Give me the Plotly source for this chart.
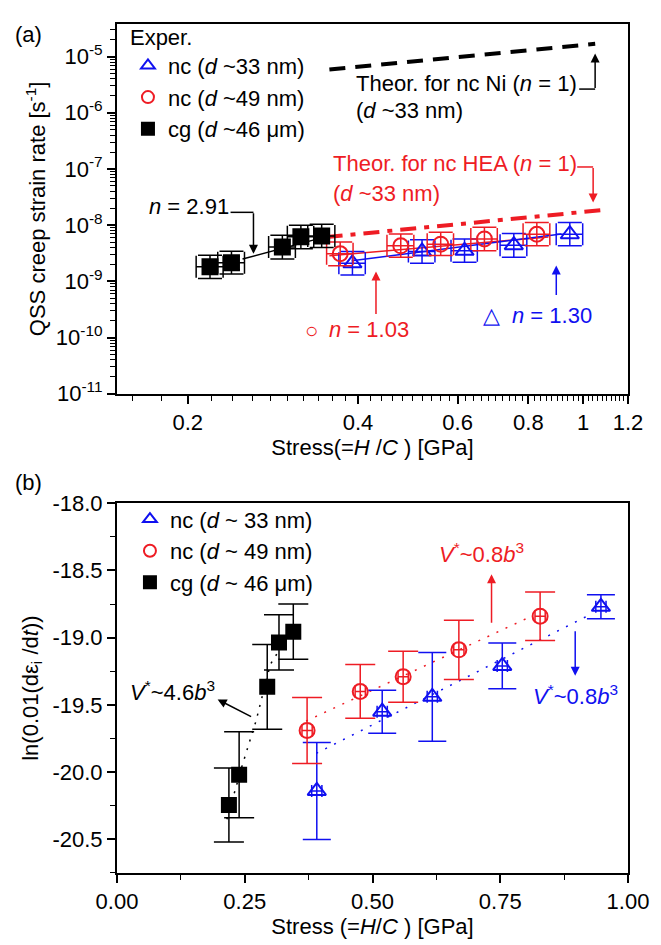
import math
import plotly.graph_objects as go

# ---------------- data ----------------
# stress (=H/C) [GPa], shared by both panels
stress_nc33 = [0.391, 0.519, 0.617, 0.754, 0.947]
stress_nc49 = [0.372, 0.476, 0.560, 0.669, 0.828]
stress_cg = [0.219, 0.239, 0.294, 0.317, 0.345]

stress_err_nc33 = [0.021, 0.028, 0.033, 0.041, 0.051]
stress_err_nc49 = [0.020, 0.026, 0.030, 0.036, 0.045]
stress_err_cg = [0.012, 0.013, 0.016, 0.017, 0.019]

# panel (a): QSS creep strain rate [1/s]
rate_nc33 = [2.1e-9, 3.4e-9, 3.5e-9, 4.4e-9, 6.9e-9]
rate_nc49 = [3.1e-9, 4.3e-9, 4.6e-9, 5.7e-9, 6.9e-9]
rate_cg = [1.83e-9, 2.15e-9, 4.1e-9, 6.2e-9, 6.4e-9]

rate_hi_nc33 = [1.3e-9, 2.1e-9, 2.2e-9, 2.7e-9, 4.3e-9]
rate_lo_nc33 = [0.8e-9, 1.3e-9, 1.3e-9, 1.7e-9, 2.6e-9]
rate_hi_nc49 = [1.9e-9, 2.7e-9, 2.9e-9, 3.5e-9, 4.3e-9]
rate_lo_nc49 = [1.2e-9, 1.6e-9, 1.7e-9, 2.2e-9, 2.6e-9]
rate_hi_cg = [1.1e-9, 1.3e-9, 2.5e-9, 3.8e-9, 4.0e-9]
rate_lo_cg = [0.7e-9, 0.8e-9, 1.6e-9, 2.4e-9, 2.4e-9]

# fitted / theoretical lines in panel (a)
fit_cg_x, fit_cg_y = [0.25, 0.35], [2.5e-9, 6.2e-9]
fit_nc49_x, fit_nc49_y = [0.356, 0.868], [2.86e-9, 6.15e-9]
fit_nc33_x, fit_nc33_y = [0.39, 0.915], [2.33e-9, 6.95e-9]
theor_hea_x, theor_hea_y = [0.352, 1.107], [6.15e-9, 1.9e-8]
theor_ni_x, theor_ni_y = [0.356, 1.05], [5.9e-6, 1.69e-5]

# panel (b): ln(0.01(d eps_i / dt))
ln_nc33 = [-20.14, -19.55, -19.44, -19.21, -18.77]
ln_err_nc33 = [0.36, 0.16, 0.33, 0.17, 0.09]
ln_nc49 = [-19.69, -19.40, -19.29, -19.09, -18.84]
ln_err_nc49 = [0.245, 0.20, 0.19, 0.22, 0.18]
ln_cg = [-20.245, -20.02, -19.365, -19.035, -18.955]
ln_err_cg = [0.275, 0.32, 0.315, 0.205, 0.205]
stress_err_b = [0.010, 0.010, 0.010, 0.010, 0.010]

fitb_cg_x = [0.215, 0.245, 0.272, 0.300, 0.345]
fitb_cg_y = [-20.35, -19.95, -19.62, -19.20, -18.92]
fitb_nc49_x, fitb_nc49_y = [0.37, 0.80], [-19.62, -18.86]
fitb_nc33_x, fitb_nc33_y = [0.39, 0.93], [-19.86, -18.82]

# tick labels
ya_tickvals = [1e-11, 1e-10, 1e-9, 1e-8, 1e-7, 1e-6, 1e-5]
ya_ticktext = ["10<sup>-11</sup>", "10<sup>-10</sup>", "10<sup>-9</sup>", "10<sup>-8</sup>",
               "10<sup>-7</sup>", "10<sup>-6</sup>", "10<sup>-5</sup>"]
xa_tickvals = [0.2, 0.4, 0.6, 0.8, 1.0, 1.2]
xa_ticktext = ["0.2", "0.4", "0.6", "0.8", "1", "1.2"]
yb_tickvals = [-18.0, -18.5, -19.0, -19.5, -20.0, -20.5]
yb_ticktext = ["-18.0", "-18.5", "-19.0", "-19.5", "-20.0", "-20.5"]
xb_tickvals = [0.0, 0.25, 0.5, 0.75, 1.0]
xb_ticktext = ["0.00", "0.25", "0.50", "0.75", "1.00"]

# ---------------- style ----------------
BLUE = "#1010f0"
RED = "#ee1c24"
BLACK = "#000000"
FONT = "Liberation Sans, Arial, sans-serif"
FS = 22

W, H = 661, 945
ML, MR, MT, MB = 117, 31, 12, 72
PW, PH = W - ML - MR, H - MT - MB


def X(px):
    return (px - ML) / PW


def Y(py):
    return (H - MB - py) / PH


fig = go.Figure()


def add_points(x, y, ex, ey_hi, ey_lo, color, symbol, size, name, xa, ya, legend, cap_y, cap_x):
    fig.add_trace(go.Scatter(
        x=x, y=y, mode="markers", name=name, xaxis=xa, yaxis=ya, legend=legend,
        marker=dict(symbol=symbol, size=size, color=color, line=dict(color=color, width=2)),
        error_x=dict(type="data", array=ex, color=color, thickness=1.5, width=cap_x),
        error_y=dict(type="data", array=ey_hi, arrayminus=ey_lo, color=color, thickness=1.5, width=cap_y),
    ))


def add_line(x, y, color, width, dash, xa, ya):
    fig.add_trace(go.Scatter(x=x, y=y, mode="lines", showlegend=False, xaxis=xa, yaxis=ya,
                             line=dict(color=color, width=width, dash=dash), hoverinfo="skip"))


# panel (a)
add_line(theor_ni_x, theor_ni_y, BLACK, 4, "16px,10px", "x", "y")
add_line(theor_hea_x, theor_hea_y, RED, 4, "16px,8px,5px,8px", "x", "y")
add_line(fit_cg_x, fit_cg_y, BLACK, 1.5, "solid", "x", "y")
add_line(fit_nc49_x, fit_nc49_y, RED, 1.5, "solid", "x", "y")
add_line(fit_nc33_x, fit_nc33_y, BLUE, 1.5, "solid", "x", "y")
add_points(stress_nc33, rate_nc33, stress_err_nc33, rate_hi_nc33, rate_lo_nc33, BLUE,
           "triangle-up-open", 16, "nc (<i>d</i> ~33 nm)", "x", "y", "legend", 12, 11)
add_points(stress_nc49, rate_nc49, stress_err_nc49, rate_hi_nc49, rate_lo_nc49, RED,
           "circle-open", 15, "nc (<i>d</i> ~49 nm)", "x", "y", "legend", 12, 11)
add_points(stress_cg, rate_cg, stress_err_cg, rate_hi_cg, rate_lo_cg, BLACK,
           "square", 15, "cg (<i>d</i> ~46 μm)", "x", "y", "legend", 12, 11)

# panel (b)
add_line(fitb_cg_x, fitb_cg_y, BLACK, 1.5, "2px,7px", "x2", "y2")
add_line(fitb_nc49_x, fitb_nc49_y, RED, 1.5, "2px,8px", "x2", "y2")
add_line(fitb_nc33_x, fitb_nc33_y, BLUE, 1.5, "2px,8px", "x2", "y2")
add_points(stress_nc33, ln_nc33, stress_err_b, ln_err_nc33, ln_err_nc33, BLUE,
           "triangle-up-open", 16, "nc (<i>d</i> ~ 33 nm)", "x2", "y2", "legend2", 14, 6)
add_points(stress_nc49, ln_nc49, stress_err_b, ln_err_nc49, ln_err_nc49, RED,
           "circle-open", 15, "nc (<i>d</i> ~ 49 nm)", "x2", "y2", "legend2", 15, 6)
add_points(stress_cg, ln_cg, stress_err_b, ln_err_cg, ln_err_cg, BLACK,
           "square", 14, "cg (<i>d</i> ~ 46 μm)", "x2", "y2", "legend2", 15, 6)

axis_common = dict(showline=True, linecolor="black", linewidth=2, mirror=True, showgrid=False,
                   zeroline=False, ticks="outside", tickcolor="black", tickwidth=1.5, ticklen=8,
                   tickfont=dict(family=FONT, size=FS, color="black"))

# minor tick positions
xa_minor = [round(0.02 * k, 2) for k in range(8, 61) if round(0.02 * k, 2) not in xa_tickvals]
ya_minor = [m * 10.0 ** e for e in range(-11, -4) for m in range(2, 10) if m * 10.0 ** e < 3.8e-5]
xb_minor = [0.125, 0.375, 0.625, 0.875]
yb_minor = [-18.25, -18.75, -19.25, -19.75, -20.25, -20.75]

minor_style = dict(ticks="outside", ticklen=5, tickwidth=1.3, tickcolor="black", tickmode="array")

fig.update_layout(
    width=W, height=H, margin=dict(l=ML, r=MR, t=MT, b=MB),
    paper_bgcolor="white", plot_bgcolor="white",
    font=dict(family=FONT, size=FS, color="black"),
    xaxis=dict(axis_common, type="log", range=[math.log10(0.15), math.log10(1.2)],
               domain=[0, 1], anchor="y", tickmode="array", tickvals=xa_tickvals, ticktext=xa_ticktext,
               minor=dict(minor_style, tickvals=xa_minor),
               title=dict(text="Stress(=<i>H</i> /<i>C</i> ) [GPa]", font=dict(size=FS), standoff=2)),
    yaxis=dict(axis_common, type="log", range=[-11, -4.42], domain=[Y(387), 1], anchor="x",
               tickmode="array", tickvals=ya_tickvals, ticktext=ya_ticktext,
               minor=dict(minor_style, tickvals=ya_minor),
               title=dict(text="QSS creep strain rate [s<sup>-1</sup>]", font=dict(size=FS), standoff=4)),
    xaxis2=dict(axis_common, range=[0, 1], domain=[0, 1], anchor="y2",
                tickmode="array", tickvals=xb_tickvals, ticktext=xb_ticktext,
                minor=dict(minor_style, tickvals=xb_minor),
                title=dict(text="Stress (=<i>H</i>/<i>C</i> ) [GPa]", font=dict(size=FS), standoff=2)),
    yaxis2=dict(axis_common, range=[-20.75, -18.0], domain=[0, Y(498)], anchor="x2",
                tickmode="array", tickvals=yb_tickvals, ticktext=yb_ticktext,
                minor=dict(minor_style, tickvals=yb_minor),
                title=dict(text="ln(0.01(dε<sub>i</sub> /d<i>t</i>))", font=dict(size=FS), standoff=8)),
    legend=dict(x=X(128), y=Y(4), xanchor="left", yanchor="top", bgcolor="rgba(0,0,0,0)",
                font=dict(family=FONT, size=FS), title=dict(text="Exper.", font=dict(family=FONT, size=FS)),
                tracegroupgap=0, itemsizing="constant"),
    legend2=dict(x=X(130), y=Y(493), xanchor="left", yanchor="top", bgcolor="rgba(0,0,0,0)",
                 font=dict(family=FONT, size=FS), tracegroupgap=0, itemsizing="constant"),
)

ann = []


def text(px, py, s, color=BLACK, xanchor="center", size=FS):
    ann.append(dict(x=X(px), y=Y(py), xref="paper", yref="paper", text=s, showarrow=False,
                    xanchor=xanchor, yanchor="middle", font=dict(family=FONT, size=size, color=color)))


def arrow(hx, hy, tx, ty, color=BLACK, width=1.5):
    ann.append(dict(x=X(hx), y=Y(hy), xref="paper", yref="paper", text="", showarrow=True,
                    ax=tx - hx, ay=ty - hy, axref="pixel", ayref="pixel", arrowhead=2,
                    arrowsize=1.2, arrowwidth=width, arrowcolor=color))


shapes = []


def seg(x0, y0, x1, y1, color=BLACK, width=1.5):
    shapes.append(dict(type="line", xref="paper", yref="paper", x0=X(x0), y0=Y(y0), x1=X(x1), y1=Y(y1),
                       line=dict(color=color, width=width)))


# panel labels
text(28, 23, "(a)")
text(28, 477, "(b)")

# panel (a) annotations
text(231, 197, "<i>n</i> = 2.91", xanchor="right")
seg(231, 203, 254, 203)
arrow(254, 245, 254, 203)

text(355, 72, "Theor. for nc Ni (<i>n</i> = 1)", xanchor="left")
text(355, 100, "(<i>d</i> ~33 nm)", xanchor="left")
seg(581, 78, 597, 78)
arrow(597, 42, 597, 78)

text(332, 153, "Theor. for nc HEA (<i>n</i> = 1)", RED, xanchor="left")
text(332, 184, "(<i>d</i> ~33 nm)", RED, xanchor="left")
seg(579, 157, 595, 157, RED)
arrow(595, 193, 595, 157, RED)

text(312, 323, "○", RED, size=22)
text(328, 322, "<i>n</i> = 1.03", RED, xanchor="left")
arrow(377, 263, 377, 307, RED)

text(493, 308, "△", BLUE, size=22)
text(512, 308, "<i>n</i> = 1.30", BLUE, xanchor="left")
arrow(558, 257, 558, 288, BLUE)

# panel (b) annotations
text(173, 688, "<i>V</i><sup>*</sup>~4.6<i>b</i><sup>3</sup>")
arrow(218, 697, 253, 715)
text(483, 548, "<i>V</i><sup>*</sup>~0.8<i>b</i><sup>3</sup>", RED)
arrow(493, 570, 493, 620, RED)
text(577, 692, "<i>V</i><sup>*</sup>~0.8<i>b</i><sup>3</sup>", BLUE)
arrow(577, 673, 577, 627, BLUE)

fig.update_layout(annotations=ann, shapes=shapes)

fig.write_html("out.html")
